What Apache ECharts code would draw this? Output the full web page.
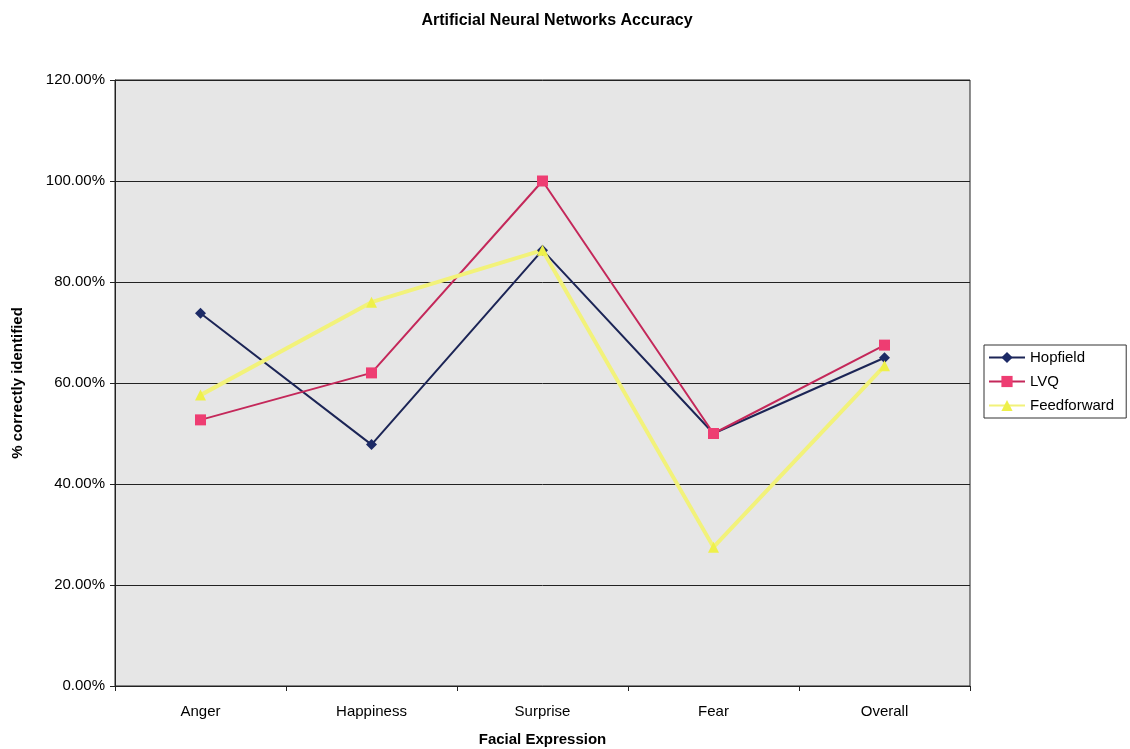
<!DOCTYPE html>
<html>
<head>
<meta charset="utf-8">
<script src="https://cdn.jsdelivr.net/npm/echarts@6/dist/echarts.min.js"></script>
<style>html,body{margin:0;padding:0;background:#fff;}#c{width:1130px;height:749px;}</style>
</head>
<body>
<div id="c"></div>
<script>
const categories = ['Anger', 'Happiness', 'Surprise', 'Fear', 'Overall'];
const hopfield = [73.8, 47.8, 86.3, 50.0, 65.0];
const lvq = [52.7, 62.0, 100.0, 50.0, 67.5];
const feedforward = [57.6, 76.0, 86.3, 27.5, 63.4];
const yTicks = [0, 20, 40, 60, 80, 100, 120];

const chart = echarts.init(document.getElementById('c'));
const font = 'Liberation Sans, Arial, sans-serif';
chart.setOption({
  animation: false,
  backgroundColor: '#ffffff',
  title: {
    text: 'Artificial Neural Networks Accuracy',
    left: 552, top: 8, textAlign: 'center',
    textStyle: { fontFamily: font, fontSize: 16, fontWeight: 'bold', color: '#000' }
  },
  legend: {
    orient: 'vertical', left: 984, top: 345,
    itemGap: 9, itemWidth: 36, itemHeight: 14,
    backgroundColor: '#fff', borderColor: '#333', borderWidth: 1,
    padding: [5, 12, 5, 4],
    textStyle: { fontFamily: font, fontSize: 15, color: '#000' },
    data: ['Hopfield', 'LVQ', 'Feedforward']
  },
  grid: {
    left: 115, right: 160, top: 80, bottom: 63,
    outerBoundsMode: 'none', containLabel: false,
    show: true, backgroundColor: '#e6e6e6', borderColor: '#222', borderWidth: 1
  },
  xAxis: {
    type: 'category', data: categories, boundaryGap: true,
    name: 'Facial Expression', nameLocation: 'middle', nameGap: 46,
    nameTextStyle: { fontFamily: font, fontSize: 15, fontWeight: 'bold', color: '#000' },
    axisLine: { lineStyle: { color: '#222' } },
    axisTick: { show: true, alignWithLabel: false, lineStyle: { color: '#222' } },
    axisLabel: { fontFamily: font, fontSize: 15, color: '#000', margin: 18 }
  },
  yAxis: {
    type: 'value', min: 0, max: 120, interval: 20,
    name: '% correctly identified', nameLocation: 'middle', nameGap: 90, nameRotate: 90,
    nameTextStyle: { fontFamily: font, fontSize: 15, fontWeight: 'bold', color: '#000' },
    axisLine: { show: true, lineStyle: { color: '#222' } },
    axisTick: { show: true, length: 5, inside: false, lineStyle: { color: '#222' } },
    axisLabel: { fontFamily: font, fontSize: 15, color: '#000', margin: 10,
      formatter: v => yTicks.includes(v) ? v.toFixed(2) + '%' : '' },
    splitLine: { show: true, lineStyle: { color: '#222', width: 1 } }
  },
  series: [
    { name: 'Hopfield', type: 'line', data: hopfield, symbol: 'diamond', symbolSize: 11,
      lineStyle: { color: '#1c2556', width: 2 }, itemStyle: { color: '#1c2a66' } },
    { name: 'LVQ', type: 'line', data: lvq, symbol: 'rect', symbolSize: 11,
      lineStyle: { color: '#c4285a', width: 2 }, itemStyle: { color: '#ee3d72' } },
    { name: 'Feedforward', type: 'line', data: feedforward, symbol: 'triangle', symbolSize: 11,
      lineStyle: { color: '#f2f27a', width: 4 }, itemStyle: { color: '#eef04a' } }
  ]
});
</script>
</body>
</html>
